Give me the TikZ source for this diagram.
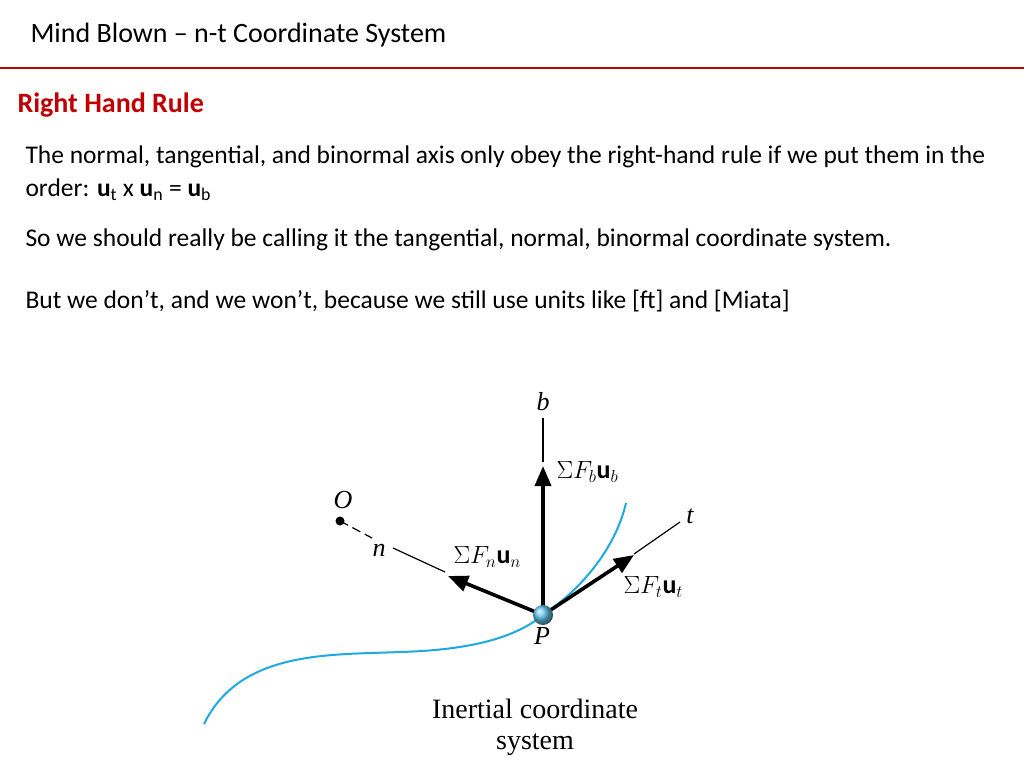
\documentclass[tikz,border=0pt]{standalone}
\usepackage{fontspec}
\setmainfont{Carlito}
\newfontfamily\figfont{Liberation Serif}
\usetikzlibrary{arrows.meta}
\definecolor{slidered}{RGB}{192,0,0}
\definecolor{curveblue}{RGB}{30,170,225}
\tikzset{
 thinax/.style={line width=1.2pt,black},
 force/.style={line width=3.6pt,-{Triangle[length=20pt,width=16pt]}},
 body/.style={anchor=west,font=\fontsize{25.5}{30}\selectfont},
 flab/.style={font=\figfont\fontsize{26}{29}\selectfont\itshape}
}
\begin{document}
\begin{tikzpicture}[x=1pt,y=-1pt]
\useasboundingbox (0,0) rectangle (1024,768);
\fill[white] (0,0) rectangle (1024,768);
\node[anchor=west,font=\fontsize{28}{32}\selectfont] (title) at (27,35) {Mind Blown -- n-t Coordinate System};
\draw[slidered,line width=2.2pt] (0,68) -- (1024,68);
\node[anchor=west,text=slidered,font=\fontsize{28}{32}\selectfont\bfseries] (rhr) at (14,105) {Right Hand Rule};
\node[body] (l1) at (22,157) {The normal, tangential, and binormal axis only obey the right-hand rule if we put them in the};
\node[body] (l2) at (22,190) {order: \textbf{u}\textsubscript{t} x \textbf{u}\textsubscript{n} = \textbf{u}\textsubscript{b}};
\node[body] (l3) at (22,240) {So we should really be calling it the tangential, normal, binormal coordinate system.};
\node[body] (l4) at (22,301) {But we don’t, and we won’t, because we still use units like [ft] and [Miata]};

\draw[curveblue,line width=2pt] (204,724) .. controls (240,650) and (330,655) .. (400,652) .. controls (470,650) and (515,638) .. (543,615) .. controls (580,590) and (615,550) .. (626,503);
\coordinate (P) at (543,615);
\draw[thinax] (543,418) -- (543,462);
\node[flab] (b) at (543,402) {b};
\fill (340,521) circle (4.5pt);
\node (O) at (340,521) {};
\node[flab] at (343,500) {O};
\draw[thinax,dash pattern=on 9pt off 5pt] (O.center) -- (372,538);
\node[flab] (n) at (379,550) {n};
\draw[thinax] (393,548) -- (445,572);
\draw[thinax] (634,554) -- (680,522);
\node[flab] (t) at (690,516) {t};
\draw[force] (P) -- (543,466);
\draw[force] (P) -- (448,576);
\draw[force] (P) -- (634,555);
\node[flab,anchor=west] at (553,472) {\upshape$\Sigma F_b\mathbf{u}_b$};
\node[flab,anchor=west] at (450,557) {\upshape$\Sigma F_n\mathbf{u}_n$};
\node[flab,anchor=west] at (620,587) {\upshape$\Sigma F_t\mathbf{u}_t$};
\shade[ball color=curveblue!70] (P) circle (10pt);
\node[flab] (Pl) at (542,636) {P};
\node[font=\figfont\fontsize{28}{31}\selectfont,align=center] (cap) at (535,727) {Inertial coordinate\\system};
\end{tikzpicture}
\end{document}
